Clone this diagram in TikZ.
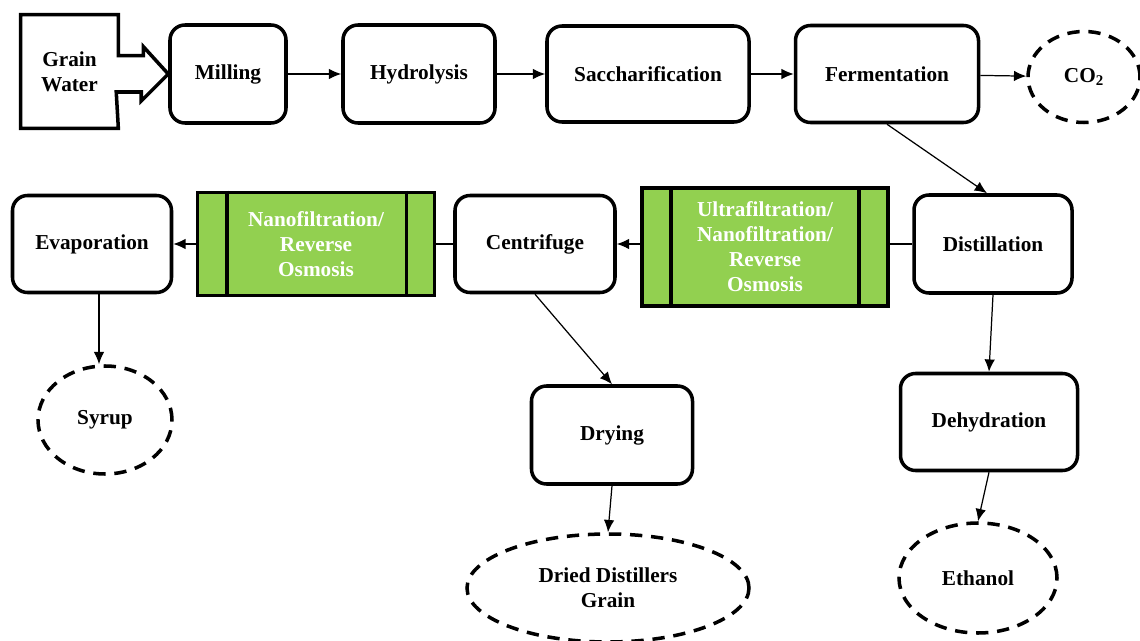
\documentclass[tikz,border=0pt]{standalone}
\usepackage{fontspec}
\setmainfont{Liberation Serif}
\usetikzlibrary{shapes.geometric, arrows.meta}
\definecolor{memGreen}{HTML}{92D050}
\tikzset{
    objRoundRectangle/.style={rectangle, rounded corners=0.3cm, text centered, draw=black, line width=2pt},
    objMembrane/.style={rectangle, text centered, align=center, draw=black, fill=memGreen, line width=2.2pt, text=white},
    objEllipse/.style={ellipse, text centered, align=center, draw=black, line width=2pt, dash pattern=on 7pt off 5pt},
    objInput/.style={rectangle, text centered, align=center},
    arrow/.style={line width=0.7pt, -{Latex[length=7pt, width=6pt]}},
    link/.style={line width=0.7pt}
}

\begin{document}
\begin{tikzpicture}[node distance=1.5cm, font=\fontsize{12.1}{14.2}\selectfont\bfseries]
    \useasboundingbox (0,0) rectangle (22.8,-12.82);

    \node (in0) [objInput, minimum width=1.94cm, minimum height=2.26cm] at (1.39,-1.43) {Grain\\Water};
    \node (001) [objRoundRectangle, minimum width=2.32cm, minimum height=1.96cm, right of=in0, xshift=1.67cm, yshift=-0.05cm] {Milling};
    \node (002) [objRoundRectangle, minimum width=3.04cm, minimum height=1.96cm, right of=001, xshift=2.32cm] {Hydrolysis};
    \node (003) [objRoundRectangle, minimum width=4.04cm, minimum height=1.92cm, right of=002, xshift=3.08cm] {Saccharification};
    \node (004) [objRoundRectangle, minimum width=3.66cm, minimum height=1.94cm, right of=003, xshift=3.28cm] {Fermentation};
    \node (out1) [objEllipse, minimum width=2.24cm, minimum height=1.82cm, right of=004, xshift=2.44cm, yshift=-0.06cm] {CO\textsubscript{2}};

    \node (005) [objRoundRectangle, minimum width=3.16cm, minimum height=1.96cm, below of=004, xshift=2.12cm, yshift=-1.9cm] {Distillation};
    \node (mem1) [objMembrane, minimum width=4.92cm, minimum height=2.36cm, left of=005, xshift=-3.06cm, yshift=-0.06cm] {Ultrafiltration/\\Nanofiltration/\\Reverse\\Osmosis};
    \node (006) [objRoundRectangle, minimum width=3.2cm, minimum height=1.94cm, left of=mem1, xshift=-3.1cm, yshift=0.06cm] {Centrifuge};
    \node (mem2) [objMembrane, minimum width=4.74cm, minimum height=2.06cm, left of=006, xshift=-2.88cm] {Nanofiltration/\\Reverse\\Osmosis};
    \node (007) [objRoundRectangle, minimum width=3.18cm, minimum height=1.94cm, left of=mem2, xshift=-2.98cm] {Evaporation};

    \node (out2) [objEllipse, minimum width=2.68cm, minimum height=2.16cm, below of=007, xshift=0.26cm, yshift=-2.02cm] {Syrup};
    \node (008) [objRoundRectangle, minimum width=3.22cm, minimum height=1.96cm, below of=006, xshift=1.54cm, yshift=-2.32cm] {Drying};
    \node (out3) [objEllipse, minimum width=5.64cm, minimum height=2.16cm, below of=008, xshift=-0.08cm, yshift=-1.56cm] {Dried Distillers\\Grain};
    \node (009) [objRoundRectangle, minimum width=3.54cm, minimum height=1.94cm, below of=005, xshift=-0.08cm, yshift=-2.06cm] {Dehydration};
    \node (out4) [objEllipse, minimum width=3.16cm, minimum height=2.2cm, below of=009, xshift=-0.22cm, yshift=-1.62cm] {Ethanol};

    % input block arrow
    \draw[line width=2pt, line join=miter] (in0.north west) -- (in0.north east) -- ++(0,-0.82) -- ++(0.5,0) -- ++(0,0.18) -- (001.west) -- ++(-0.54,-0.54) -- ++(0,0.18) -- ++(-0.5,0) -- (in0.south east) -- (in0.south west) -- cycle;

    % membrane end caps
    \draw[line width=2.2pt] ([xshift=0.62cm]mem1.north west) -- ([xshift=0.62cm]mem1.south west);
    \draw[line width=2.2pt] ([xshift=-0.62cm]mem1.north east) -- ([xshift=-0.62cm]mem1.south east);
    \draw[line width=2.2pt] ([xshift=0.62cm]mem2.north west) -- ([xshift=0.62cm]mem2.south west);
    \draw[line width=2.2pt] ([xshift=-0.6cm]mem2.north east) -- ([xshift=-0.6cm]mem2.south east);

    \draw[arrow] (001) -- (002);
    \draw[arrow] (002) -- (003);
    \draw[arrow] (003) -- (004);
    \draw[arrow] (004) -- (out1);
    \draw[arrow] (004.south) -- ([xshift=-0.12cm]005.north);

    \draw[link] (005.west) -- (005.west -| mem1.east);
    \draw[arrow] (006.east -| mem1.west) -- (006.east);
    \draw[link] (006) -- (mem2);
    \draw[arrow] (mem2) -- (007);

    \draw[arrow] ([xshift=0.14cm]007.south) -- ([xshift=-0.12cm]out2.north);
    \draw[arrow] (006.south) -- (008.north);
    \draw[arrow] (008.south) -- (out3.north);
    \draw[arrow] (005.south) -- (009.north);
    \draw[arrow] (009.south) -- (out4.north);

\end{tikzpicture}
\end{document}
